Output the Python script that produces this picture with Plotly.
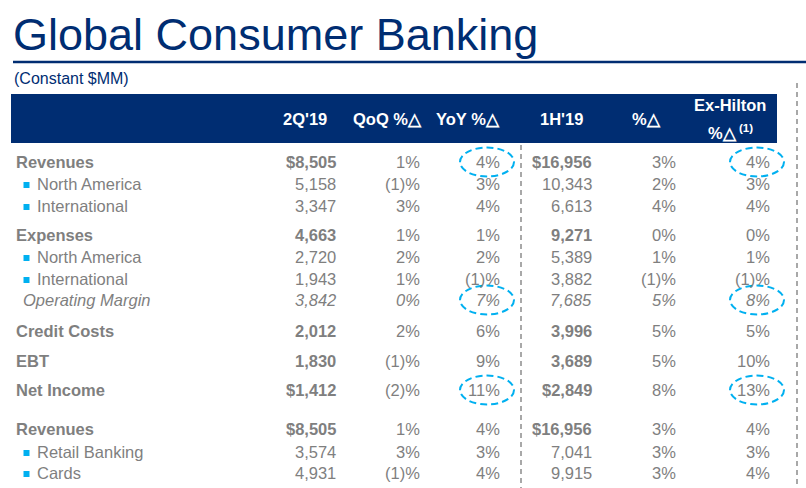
import plotly.graph_objects as go

# ---------------- data ----------------
row_labels = ["Revenues", "North America", "International", "Expenses", "North America",
              "International", "Operating Margin", "Credit Costs", "EBT", "Net Income",
              "Revenues", "Retail Banking", "Cards"]
row_style = ["bold", "sub", "sub", "bold", "sub", "sub", "italic", "bold", "bold", "bold",
             "bold", "sub", "sub"]
dollar_rows = [0, 9, 10]
q2_19 = [8505, 5158, 3347, 4663, 2720, 1943, 3842, 2012, 1830, 1412, 8505, 3574, 4931]
qoq_pct = [1, -1, 3, 1, 2, 1, 0, 2, -1, -2, 1, 3, -1]
yoy_pct = [4, 3, 4, 1, 2, -1, 7, 6, 9, 11, 4, 3, 4]
h1_19 = [16956, 10343, 6613, 9271, 5389, 3882, 7685, 3996, 3689, 2849, 16956, 7041, 9915]
h1_pct = [3, 2, 4, 0, 1, -1, 5, 5, 5, 8, 3, 3, 3]
exhilton_pct = [4, 3, 4, 0, 1, -1, 8, 5, 10, 13, 4, 3, 4]
highlighted = [(0, "yoy"), (0, "exh"), (6, "yoy"), (6, "exh"), (9, "yoy"), (9, "exh")]

title = "Global Consumer Banking"
subtitle = "(Constant $MM)"
col_headers = ["2Q'19", "QoQ %△", "YoY %△", "1H'19", "%△"]
exh_header = ["Ex-Hilton", "%△<sup> (1)</sup>"]

# ---------------- layout constants ----------------
W, H = 806, 488
NAVY = "#002D72"
GRAY = "#7F7F7F"
CYAN = "#00B0F0"
FONT = "Liberation Sans, Arial, sans-serif"
row_y = [162, 184, 206, 235, 257, 279, 300, 331, 361, 390, 429, 452, 473]
col_right = {"q2": 338, "qoq": 422, "yoy": 502, "h1": 594, "h1p": 678, "exh": 772}
hdr_center = [305, 387, 468, 561, 646]


def fmt_pct(v):
    return f"({abs(v)})%" if v < 0 else f"{v}%"


fig = go.Figure()
fig.add_trace(go.Scatter(x=[0], y=[0], mode="markers", marker=dict(opacity=0),
                         hoverinfo="skip", showlegend=False))

ann = []
shapes = []

# title
ann.append(dict(x=11, y=34, text=title, xanchor="left", yanchor="middle",
                font=dict(family=FONT, size=45, color=NAVY)))
shapes.append(dict(type="line", x0=13, x1=W, y0=62, y1=62, line=dict(color=NAVY, width=2.5)))
ann.append(dict(x=12, y=78, text=subtitle, xanchor="left", yanchor="middle",
                font=dict(family=FONT, size=16, color=NAVY)))

# header box
shapes.append(dict(type="rect", x0=11, x1=777, y0=94, y1=143, fillcolor=NAVY,
                   line=dict(width=0), layer="below"))
for txt, cx in zip(col_headers, hdr_center):
    ann.append(dict(x=cx, y=119, text=f"<b>{txt}</b>", xanchor="center", yanchor="middle",
                    font=dict(family=FONT, size=16.5, color="white")))
ann.append(dict(x=730, y=105, text=f"<b>{exh_header[0]}</b>", xanchor="center", yanchor="middle",
                font=dict(family=FONT, size=16.5, color="white")))
ann.append(dict(x=730, y=132, text=f"<b>{exh_header[1]}</b>", xanchor="center", yanchor="middle",
                font=dict(family=FONT, size=16.5, color="white")))

# dashed separators
shapes.append(dict(type="line", x0=521, x1=521, y0=145, y1=H,
                   line=dict(color="#8C8C8C", width=1.5, dash="5px,4px")))
shapes.append(dict(type="line", x0=797, x1=797, y0=83, y1=H,
                   line=dict(color="#8C8C8C", width=1.5, dash="5px,4px")))

# rows
for i, lab in enumerate(row_labels):
    y = row_y[i]
    st = row_style[i]
    bold = st == "bold"
    ital = st == "italic"

    def wrap(t):
        if bold:
            return f"<b>{t}</b>"
        if ital:
            return f"<i>{t}</i>"
        return t

    if st == "sub":
        lx = 35
        shapes.append(dict(type="rect", x0=23.5, x1=29.5, y0=y - 2, y1=y + 4,
                           fillcolor=CYAN, line=dict(width=0)))
    elif ital:
        lx = 21
    else:
        lx = 14
    ann.append(dict(x=lx, y=y, text=wrap(lab), xanchor="left", yanchor="middle",
                    font=dict(family=FONT, size=16.5, color=GRAY)))

    pre = "$" if i in dollar_rows else ""
    amt_wrap = wrap if (bold or ital) else (lambda t: t)
    cells = [
        ("q2", amt_wrap(f"{pre}{q2_19[i]:,}")),
        ("qoq", ("<i>%s</i>" if ital else "%s") % fmt_pct(qoq_pct[i])),
        ("yoy", ("<i>%s</i>" if ital else "%s") % fmt_pct(yoy_pct[i])),
        ("h1", amt_wrap(f"{pre}{h1_19[i]:,}")),
        ("h1p", ("<i>%s</i>" if ital else "%s") % fmt_pct(h1_pct[i])),
        ("exh", ("<i>%s</i>" if ital else "%s") % fmt_pct(exhilton_pct[i])),
    ]
    for key, txt in cells:
        ann.append(dict(x=col_right[key], y=y, text=txt, xanchor="right", yanchor="middle",
                        font=dict(family=FONT, size=16.5, color=GRAY)))

# highlight ellipses
for r, key in highlighted:
    xr = col_right[key]
    y = row_y[r]
    shapes.append(dict(type="circle", x0=xr - 42, x1=xr + 12, y0=y - 14.5, y1=y + 14.5,
                       line=dict(color=CYAN, width=2, dash="7px,4px")))

for a in ann:
    a.update(xref="x", yref="y", showarrow=False)

fig.update_layout(
    width=W, height=H, margin=dict(l=0, r=0, t=0, b=0),
    paper_bgcolor="white", plot_bgcolor="white",
    xaxis=dict(range=[0, W], visible=False, fixedrange=True),
    yaxis=dict(range=[H, 0], visible=False, fixedrange=True),
    annotations=ann, shapes=shapes, showlegend=False,
)

fig.write_html("out.html", config={"displayModeBar": False, "staticPlot": True},
               post_script="document.body.style.margin='0';document.body.style.overflow='hidden';")
